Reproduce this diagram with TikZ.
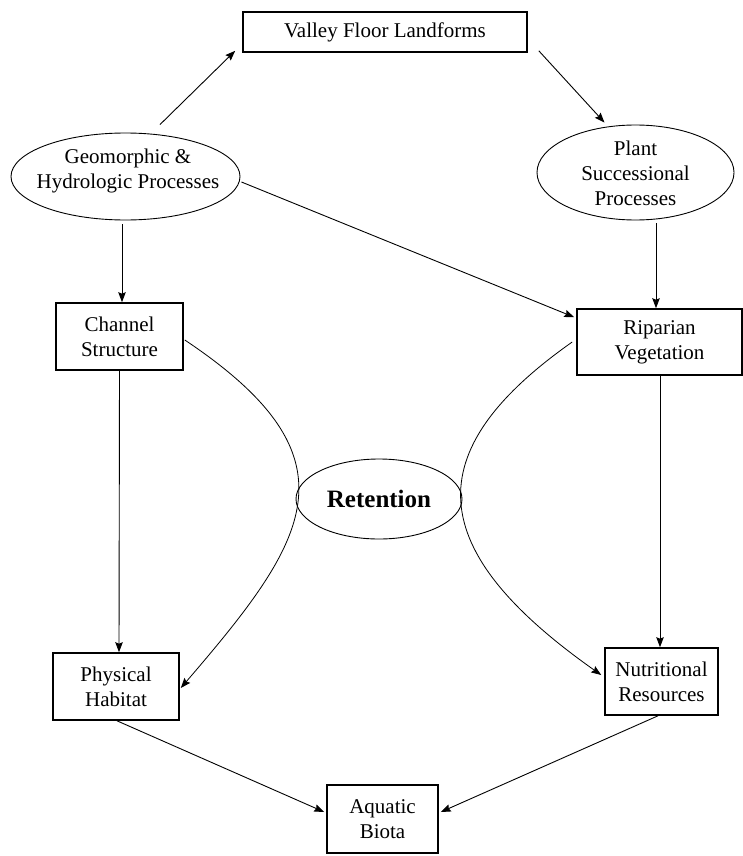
\documentclass[tikz,border=0pt]{standalone}
\usepackage{fontspec}
\setmainfont{Liberation Serif}
\usetikzlibrary{shapes.geometric,arrows.meta}
% text of an oval node: takes no room, so the oval keeps its set size
\newcommand\ovaltxt[2][0pt]{\makebox[0pt]{\raisebox{#1}[0pt][0pt]{\begin{tabular}{@{}c@{}}#2\end{tabular}}}}
\begin{document}
\begin{tikzpicture}[x=1pt,y=-1pt,
  lbl/.style={font=\fontsize{21}{25}\selectfont, align=center, inner sep=0pt},
  boxnode/.style={lbl, draw, rectangle, line width=1.6pt},
  ovalnode/.style={lbl, draw, ellipse, line width=0.9pt},
  arr/.style={line width=0.9pt, -{Stealth[length=10pt,width=7.5pt,inset=1.5pt]}},
  curvearr/.style={line width=0.8pt, -{Stealth[length=10pt,width=7.5pt,inset=1.5pt]}},
]
\useasboundingbox (0,0) rectangle (743,856);
\fill[white] (0,0) rectangle (743,856);

% nodes
\node[boxnode, minimum width=284pt, minimum height=40pt] (vfl) at (385,32) {Valley Floor Landforms};
\node[ovalnode, minimum width=229pt, minimum height=87pt] (geo) at (125.5,176.5)
  {\ovaltxt{\hspace{5pt}Geomorphic \&\\\hspace{5pt}Hydrologic Processes}};
\node[ovalnode, minimum width=197pt, minimum height=95pt] (plant) at (635.5,172.5)
  {\ovaltxt[-8pt]{Plant\\Successional\\Processes}};
\node[boxnode, minimum width=127pt, minimum height=67pt] (chan) at (119.5,336.5) {Channel\\Structure};
\node[boxnode, minimum width=165pt, minimum height=66pt] (rip) at (659.5,342) {Riparian\\Vegetation};
\node[ovalnode, minimum width=166pt, minimum height=80pt,
      font=\fontsize{25}{28}\selectfont\bfseries] (ret) at (379,499) {Retention};
\node[boxnode, minimum width=126pt, minimum height=67pt] (phys) at (116,686.5) {Physical\\Habitat};
\node[boxnode, minimum width=113pt, minimum height=67pt] (nutr) at (661.5,681.5) {Nutritional\\Resources};
\node[boxnode, minimum width=111pt, minimum height=68pt] (aqua) at (382.5,819) {Aquatic\\Biota};

% straight connectors
\draw[arr] ([xshift=34.5pt,yshift=8pt]geo.north) -- ([xshift=-7pt,yshift=2pt]vfl.south west);
\draw[arr] ([xshift=11pt,yshift=2pt]vfl.south east) -- ([xshift=-31pt,yshift=2pt]plant.north);
\draw[arr] ([xshift=1pt,yshift=-5.5pt]geo.east) -- ([xshift=-2pt,yshift=-9pt]rip.north west);
\draw[arr] ([xshift=-3.5pt,yshift=-4pt]geo.south) -- ([xshift=2.5pt]chan.north);
\draw[arr] ([xshift=20.5pt,yshift=-3pt]plant.south) -- ([xshift=-3.5pt]rip.north);
\draw[arr] (chan.south) -- ([xshift=3pt]phys.north);
\draw[arr] ([xshift=0.5pt]rip.south) -- ([xshift=-1.5pt]nutr.north);
\draw[arr] ([xshift=1pt]phys.south) -- ([xshift=-2pt,yshift=7pt]aqua.west);
\draw[arr] ([xshift=-3.5pt]nutr.south) -- ([xshift=2pt,yshift=7pt]aqua.east);

% curved connectors around the retention oval
\draw[curvearr] ([xshift=1pt,yshift=-3.5pt]chan.east)
  .. controls (363,459) and (308,540) .. ([xshift=1pt,yshift=-1.5pt]phys.east);
\draw[curvearr] ([xshift=-4pt]rip.west)
  .. controls (416,452) and (424,550) .. ([xshift=-3pt,yshift=6.5pt]nutr.west);
\end{tikzpicture}
\end{document}
